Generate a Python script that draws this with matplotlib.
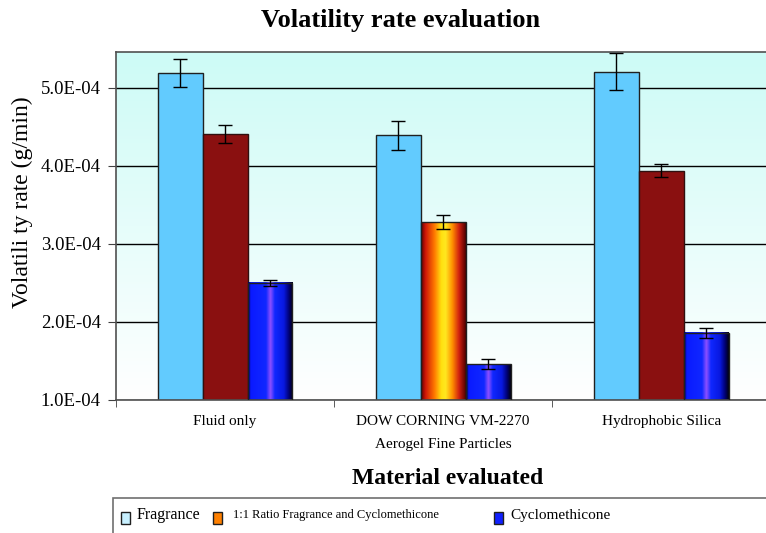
import numpy as np
import matplotlib
matplotlib.use('Agg')
import matplotlib.pyplot as plt
from matplotlib.colors import LinearSegmentedColormap
from matplotlib.patches import Rectangle
from matplotlib.ticker import FuncFormatter, FixedLocator

plt.rcParams['font.family'] = 'Liberation Serif'

categories = ['Fluid only', 'DOW CORNING VM-2270\nAerogel Fine Particles', 'Hydrophobic Silica']
fragrance = [5.19e-4, 4.39e-4, 5.21e-4]
fragrance_err = [1.8e-5, 1.85e-5, 2.4e-5]
ratio = [4.41e-4, 3.28e-4, 3.94e-4]
ratio_err = [1.1e-5, 9e-6, 8e-6]
cyclo = [2.50e-4, 1.46e-4, 1.86e-4]
cyclo_err = [4e-6, 6e-6, 6e-6]

ymin, ymax = 1.0e-4, 5.46e-4

fig = plt.figure(figsize=(7.66, 5.33), dpi=100)
ax = fig.add_axes([116 / 766, 1 - 400 / 533, 650 / 766, 348 / 533])

# background gradient: cyan at top fading to white
grad = np.linspace(0, 1, 256).reshape(-1, 1)
bg = LinearSegmentedColormap.from_list('bg', ['#ffffff', '#cdfbf6'])
ax.imshow(grad, extent=[0, 1, 0, 1], transform=ax.transAxes, aspect='auto',
          cmap=bg, origin='lower', zorder=0)

hot = LinearSegmentedColormap.from_list('hot2', [
    (0.0, '#600000'), (0.1, '#d01808'), (0.3, '#ff7a00'), (0.45, '#ffe010'),
    (0.55, '#ffe820'), (0.7, '#ff9000'), (0.85, '#d02010'), (1.0, '#500000')])
blu = LinearSegmentedColormap.from_list('blu2', [
    (0.0, '#000050'), (0.06, '#0a1aff'), (0.4, '#1028ff'), (0.5, '#9050ff'),
    (0.6, '#1028ff'), (0.8, '#0818e0'), (0.92, '#000070'), (1.0, '#000010')])
hgrad = np.linspace(0, 1, 128).reshape(1, -1)

x = np.arange(len(categories))
w = 0.206


def grad_bar(xc, val, cmap):
    ax.imshow(hgrad, extent=[xc - w / 2, xc + w / 2, ymin, val], aspect='auto',
              cmap=cmap, zorder=2)
    ax.add_patch(Rectangle((xc - w / 2, ymin), w, val - ymin, fill=False,
                           edgecolor='#202020', lw=1, zorder=3))


ax.bar(x - w, np.array(fragrance) - ymin, w, bottom=ymin, color='#62cbfe',
       edgecolor='#202020', lw=1, zorder=2)
for i in range(3):
    if i == 1:
        grad_bar(x[i], ratio[i], hot)
    else:
        ax.bar(x[i], ratio[i] - ymin, w, bottom=ymin, color='#8a1010',
               edgecolor='#301010', lw=1, zorder=2)
    grad_bar(x[i] + w, cyclo[i], blu)

ekw = dict(fmt='none', ecolor='black', elinewidth=1, capsize=5, capthick=1, zorder=4)
ax.errorbar(x - w, fragrance, yerr=fragrance_err, **ekw)
ax.errorbar(x, ratio, yerr=ratio_err, **ekw)
ax.errorbar(x + w, cyclo, yerr=cyclo_err, **ekw)

ax.set_xlim(-0.5, 2.48)
ax.set_ylim(ymin, ymax)
ax.set_yticks([1e-4, 2e-4, 3e-4, 4e-4, 5e-4])
ax.yaxis.set_major_formatter(FuncFormatter(lambda v, p: '%.1fE-%02d' % (v * 1e4, 4)))
ax.set_axisbelow(True)
ax.grid(axis='y', color='black', lw=1)
ax.set_xticks(x)
ax.set_xticklabels(categories, fontsize=11, linespacing=1.95)
ax.tick_params(axis='x', length=0, pad=11)
ax.xaxis.set_minor_locator(FixedLocator([-0.5, 0.5, 1.5]))
ax.tick_params(axis='x', which='minor', length=5, direction='out', color='#404040')
ax.tick_params(axis='y', labelsize=13.5, length=6, color='#404040', pad=5)
for s in ['top', 'left', 'bottom']:
    ax.spines[s].set_color('#505050')
    ax.spines[s].set_linewidth(1.2)
ax.spines['right'].set_visible(False)

fig.text(22 / 766, 1 - 202 / 533, 'Volatili ty rate (g/min)', rotation=90,
         ha='center', va='center', fontsize=17)
fig.text(401 / 766, 1 - 20 / 533, 'Volatility rate evaluation', ha='center',
         va='center', fontsize=19, fontweight='bold')
fig.text(448 / 766, 1 - 478 / 533, 'Material evaluated', ha='center',
         va='center', fontsize=17, fontweight='bold')

# legend box along the bottom
fig.patches.append(Rectangle((113 / 766, -0.01), 660 / 766, 35 / 533 + 0.01,
                             transform=fig.transFigure, fill=False,
                             edgecolor='#707070', lw=1.2))
ly = 1 - 516 / 533
sq_w, sq_h = 9 / 766, 12 / 533
legend_items = [(121, '#c8f0ff', 'Fragrance', 11.5, 137),
                (213, '#ff8000', '1:1 Ratio Fragrance and Cyclomethicone', 9, 233),
                (494, '#1020ff', 'Cyclomethicone', 11, 510)]
for px, col, lab, fs, tx in legend_items:
    fig.patches.append(Rectangle((px / 766, ly - sq_h / 2 - 2 / 533), sq_w, sq_h,
                                 transform=fig.transFigure, facecolor=col,
                                 edgecolor='#202020', lw=1))
    fig.text(tx / 766, ly + 1 / 533, lab, ha='left', va='center', fontsize=fs)

fig.savefig('out.png', dpi=100)
